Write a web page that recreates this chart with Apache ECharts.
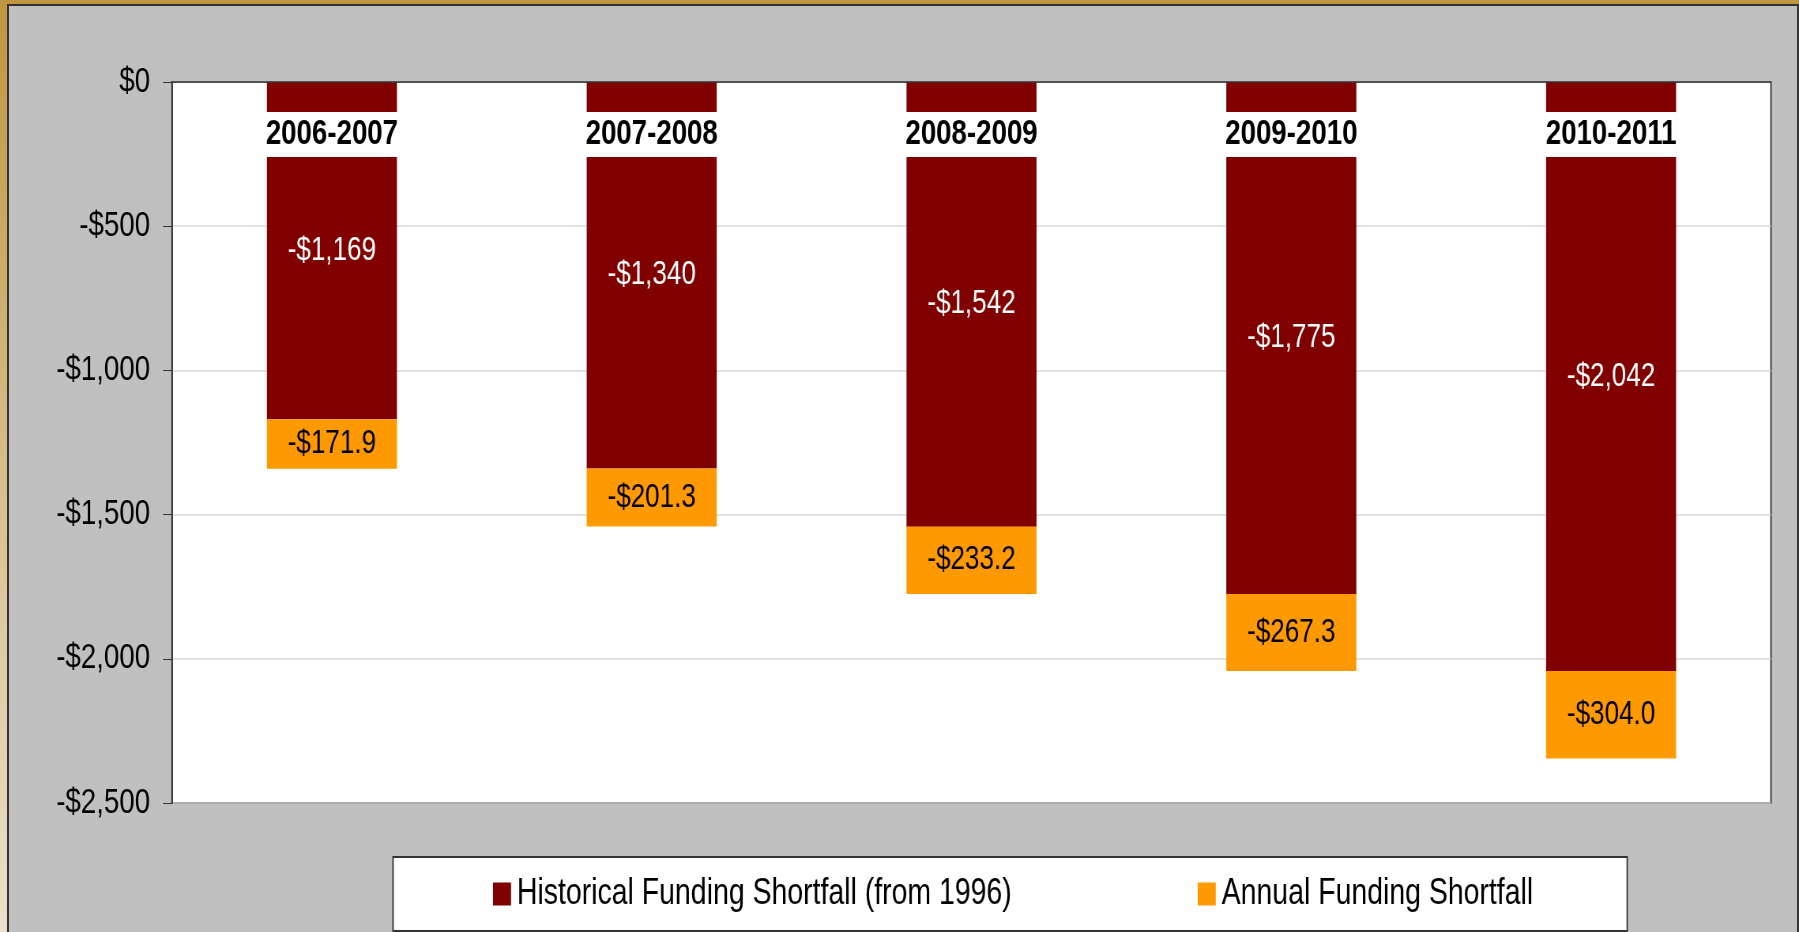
<!DOCTYPE html>
<html>
<head>
<meta charset="utf-8">
<script src="https://cdn.jsdelivr.net/npm/echarts@6/dist/echarts.min.js"></script>
<style>
    html, body { margin: 0; padding: 0; }
    body {
        width: 1799px; height: 932px; overflow: hidden; position: relative;
        background: linear-gradient(to bottom, #c0953f, #dcc597 60%, #ebe0c9);
    }
    #frame {
        position: absolute; left: 7px; top: 4px; width: 1788px; height: 932px;
        background: #c0c0c0; border: 2px solid #333; border-bottom: none;
    }
    /* the original uses a narrow face; draw wide and squeeze horizontally */
    #main {
        position: absolute; left: 0; top: 0; width: 2277px; height: 932px;
        transform: scaleX(0.79007); transform-origin: 0 0;
    }
</style>
</head>
<body>
<div id="frame"></div>
<div id="main"></div>
<script>
    const years = ['2006-2007', '2007-2008', '2008-2009', '2009-2010', '2010-2011'];
    const historical = [-1169, -1340, -1542, -1775, -2042];
    const annual = [-171.9, -201.3, -233.2, -267.3, -304.0];
    const seriesNames = ['Historical Funding Shortfall (from 1996)', 'Annual Funding Shortfall'];

    const S = 0.79007; // horizontal squeeze, see css
    const font = "'Liberation Sans', Arial, sans-serif";

    function money(v, digits) {
        let s = Math.abs(v).toLocaleString('en-US', { minimumFractionDigits: digits, maximumFractionDigits: digits });
        return (v < 0 ? '-$' : '$') + s;
    }

    let chart = echarts.init(document.getElementById('main'));
    let option = {
        backgroundColor: 'transparent',
        animation: false,
        textStyle: { fontFamily: font },
        grid: {
            left: 172 / S, top: 82, right: 28 / S, bottom: 129,
            show: true, backgroundColor: '#fff', borderColor: '#333', borderWidth: 1.8
        },
        legend: {
            left: 393 / S, top: 857,
            padding: [19, 94 / S, 19, 100 / S],
            backgroundColor: '#fff', borderColor: '#333', borderWidth: 1.8,
            icon: 'rect', itemWidth: 18 / S, itemHeight: 23, itemGap: 186 / S,
            textStyle: { fontFamily: font, fontSize: 36, color: '#000', padding: [0, 0, 0, 2 / S] },
            data: seriesNames
        },
        xAxis: {
            type: 'category',
            position: 'top',
            z: 10,
            data: years,
            axisLine: { lineStyle: { color: '#333', width: 1.5 } },
            axisTick: { inside: true, length: 10, lineStyle: { color: '#333', width: 1.5 } },
            axisLabel: {
                inside: true, margin: 30,
                fontFamily: font, fontSize: 35, fontWeight: 'bold', color: '#000',
                backgroundColor: '#fff', lineHeight: 33, padding: [6, 0, 6, 0]
            },
            splitLine: { show: false }
        },
        yAxis: {
            type: 'value',
            min: -2500, max: 0, interval: 500,
            axisLine: { show: true, lineStyle: { color: '#333', width: 1.8 } },
            axisTick: { show: true, length: 9 / S, lineStyle: { color: '#333' } },
            axisLabel: {
                margin: 22 / S, fontFamily: font, fontSize: 35, color: '#000',
                formatter: v => money(v, 0)
            },
            splitLine: { lineStyle: { color: '#d9d9d9', width: 1.5 } }
        },
        series: [
            {
                name: seriesNames[0],
                type: 'bar',
                stack: 'total',
                barWidth: 130 / S,
                data: historical,
                itemStyle: { color: '#800000' },
                label: {
                    show: true, position: 'inside', color: '#fff',
                    fontFamily: font, fontSize: 33,
                    formatter: p => money(p.value, 0)
                }
            },
            {
                name: seriesNames[1],
                type: 'bar',
                stack: 'total',
                barWidth: 130 / S,
                data: annual,
                itemStyle: { color: '#ff9900' },
                label: {
                    show: true, position: 'inside', color: '#000',
                    fontFamily: font, fontSize: 33,
                    formatter: p => money(p.value, 1)
                }
            }
        ]
    };
    chart.setOption(option);
</script>
</body>
</html>
